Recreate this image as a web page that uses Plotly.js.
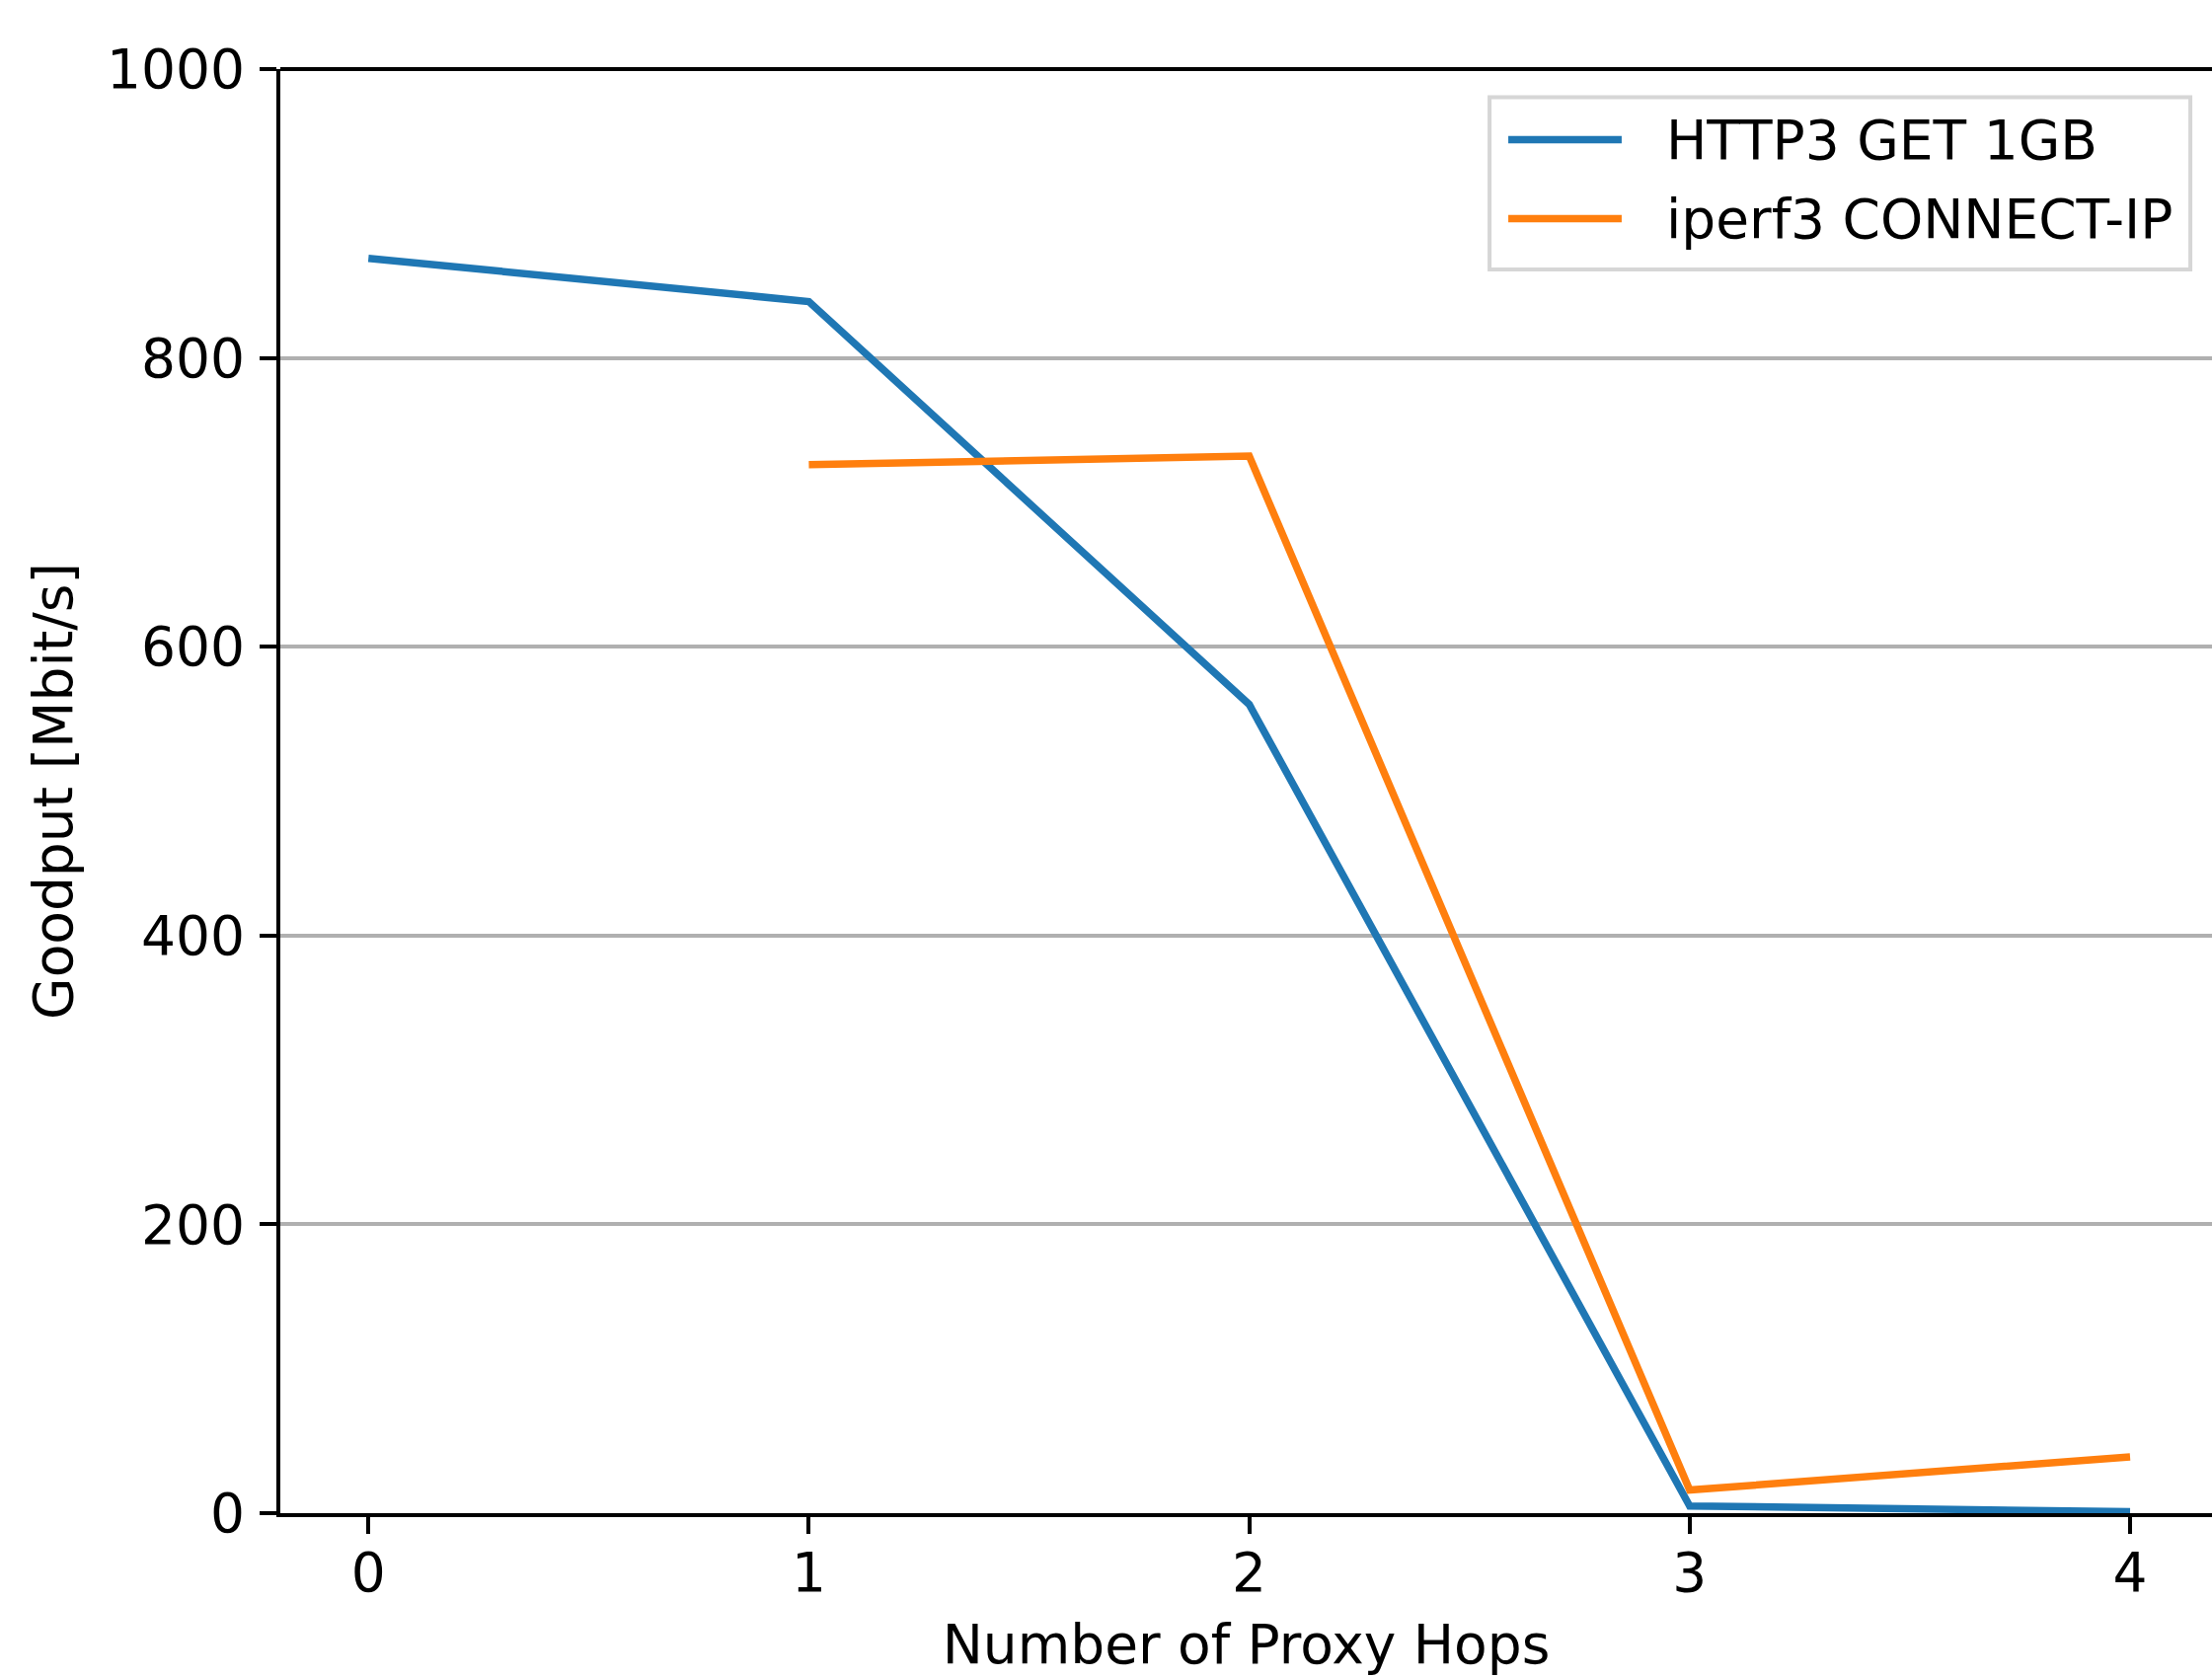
<!DOCTYPE html>
<html>
<head>
<meta charset="utf-8">
<script src="https://cdn.plot.ly/plotly-3.0.1.min.js"></script>
<style>html,body{margin:0;padding:0;background:#fff;}#chart{width:2241px;height:1700px;}</style>
</head>
<body>
<div id="chart"></div>
<script>
// Data
const hops = [0, 1, 2, 3, 4];
const http3Hops = [0, 1, 2, 3, 4];
const http3Goodput = [869, 839, 560, 5, 1];
const iperfHops = [1, 2, 3, 4];
const iperfGoodput = [726, 732, 16, 39];
const yTicks = [0, 200, 400, 600, 800, 1000];
const seriesNames = ["HTTP3 GET 1GB", "iperf3 CONNECT-IP"];
const seriesColors = ["#1f77b4", "#ff7f0e"];

const FONT = "DejaVu Sans, Liberation Sans, sans-serif";
const FS = 55;

const traces = [
  {x: http3Hops, y: http3Goodput, type: "scatter", mode: "lines", name: seriesNames[0],
   line: {color: seriesColors[0], width: 7.5}, showlegend: false},
  {x: iperfHops, y: iperfGoodput, type: "scatter", mode: "lines", name: seriesNames[1],
   line: {color: seriesColors[1], width: 7.5}, showlegend: false}
];

// manual legend (matplotlib style)
const lgX0 = 0.626, lgX1 = 0.9888, lgY0 = 0.8613, lgY1 = 0.9805;
const rowY = [0.9511, 0.8964];
const shapes = [
  {type: "line", xref: "paper", yref: "paper", x0: 0, x1: 1, y0: 1, y1: 1,
   line: {color: "black", width: 4}},
  {type: "rect", xref: "paper", yref: "paper", x0: lgX0, x1: lgX1, y0: lgY0, y1: lgY1,
   line: {color: "#d6d6d6", width: 4}, fillcolor: "rgba(255,255,255,0.8)", layer: "above"}
];
const annotations = [];
seriesNames.forEach((n, i) => {
  shapes.push({type: "line", xref: "paper", yref: "paper", x0: 0.6357, x1: 0.6944,
    y0: rowY[i], y1: rowY[i], line: {color: seriesColors[i], width: 7.5}, layer: "above"});
  annotations.push({xref: "paper", yref: "paper", x: 0.7164, y: rowY[i], text: n,
    showarrow: false, xanchor: "left", yanchor: "middle",
    font: {family: FONT, size: FS, color: "black"}});
});

const layout = {
  width: 2241, height: 1700,
  margin: {l: 284, r: 0, t: 70, b: 167, pad: 0},
  paper_bgcolor: "white", plot_bgcolor: "white",
  font: {family: FONT, size: FS, color: "black"},
  showlegend: false,
  xaxis: {
    range: [-0.2, 4.186], tickvals: hops, ticktext: hops.map(String),
    showgrid: false, zeroline: false,
    showline: true, linecolor: "black", linewidth: 4,
    ticks: "outside", ticklen: 17, tickwidth: 4, tickcolor: "black",
    ticklabelstandoff: -8,
    tickfont: {family: FONT, size: FS, color: "black"},
    title: {text: "Number of Proxy Hops", font: {family: FONT, size: FS, color: "black"}, standoff: 23},
    automargin: false
  },
  yaxis: {
    range: [0, 1000], tickvals: yTicks, ticktext: yTicks.map(String),
    showgrid: true, gridcolor: "#b0b0b0", gridwidth: 4, zeroline: false,
    showline: true, linecolor: "black", linewidth: 4,
    ticks: "outside", ticklen: 17, tickwidth: 4, tickcolor: "black",
    ticklabelstandoff: 4,
    tickfont: {family: FONT, size: FS, color: "black"},
    title: {text: "Goodput [Mbit/s]", font: {family: FONT, size: FS, color: "black"}, standoff: 18},
    automargin: false
  },
  shapes: shapes,
  annotations: annotations
};

Plotly.newPlot("chart", traces, layout, {displayModeBar: false, staticPlot: true});
</script>
</body>
</html>
